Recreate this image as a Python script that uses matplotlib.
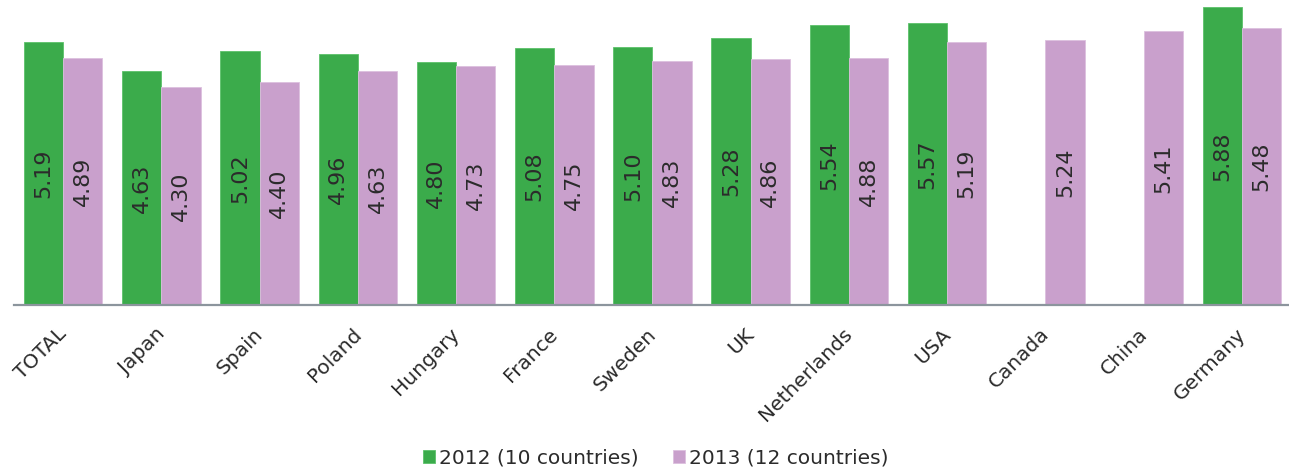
import matplotlib
matplotlib.use("Agg")
import matplotlib.pyplot as plt
import matplotlib.transforms as mtransforms
import numpy as np

countries = ["TOTAL", "Japan", "Spain", "Poland", "Hungary", "France", "Sweden",
             "UK", "Netherlands", "USA", "Canada", "China", "Germany"]
vals_2012 = [5.19, 4.63, 5.02, 4.96, 4.80, 5.08, 5.10, 5.28, 5.54, 5.57, np.nan, np.nan, 5.88]
vals_2013 = [4.89, 4.30, 4.40, 4.63, 4.73, 4.75, 4.83, 4.86, 4.88, 5.19, 5.24, 5.41, 5.48]
series_names = ["2012 (10 countries)", "2013 (12 countries)"]

green = "#3bab4b"
pink = "#c9a0cc"
txt = "#2b2b2b"

fig = plt.figure(figsize=(12.89, 4.72), dpi=100)
ax = fig.add_axes([14 / 1289, 1 - 305 / 472, 1 - 14 / 1289, 303.6 / 472])

x = np.arange(len(countries))
w = 0.4
b1 = ax.bar(x - w / 2, vals_2012, w, color=green, edgecolor="#5cc16a", linewidth=0.6, label=series_names[0])
b2 = ax.bar(x + w / 2, vals_2013, w, color=pink, edgecolor="#dcc0de", linewidth=0.6, label=series_names[1])

for bars, vals in [(b1, vals_2012), (b2, vals_2013)]:
    labs = ["" if np.isnan(v) else "%.2f" % v for v in vals]
    ax.bar_label(bars, labels=labs, label_type="center", rotation=90,
                 fontsize=16, color=txt)

ax.set_ylim(0, 6)
ax.set_xlim(-0.5, 12.48)
ax.set_yticks([])
ax.set_xticks(x)
ax.set_xticklabels(countries, rotation=45, ha="right", va="top",
                   rotation_mode="anchor", fontsize=14.5, color=txt)
ax.tick_params(axis="x", length=0, pad=14)
shift = mtransforms.ScaledTranslation(-6 / 100, 0, fig.dpi_scale_trans)
for lbl in ax.get_xticklabels():
    lbl.set_transform(lbl.get_transform() + shift)
for s in ["top", "left", "right"]:
    ax.spines[s].set_visible(False)
ax.spines["bottom"].set_color("#8c959d")
ax.spines["bottom"].set_linewidth(1.6)

fig.legend(handles=[b1, b2], loc="center", bbox_to_anchor=(0.509, 0.03),
           ncol=2, frameon=False, fontsize=14.5, handlelength=0.6,
           handleheight=0.6, handletextpad=0.2, columnspacing=1.7,
           labelcolor=txt)

fig.savefig("out.png", dpi=100)
